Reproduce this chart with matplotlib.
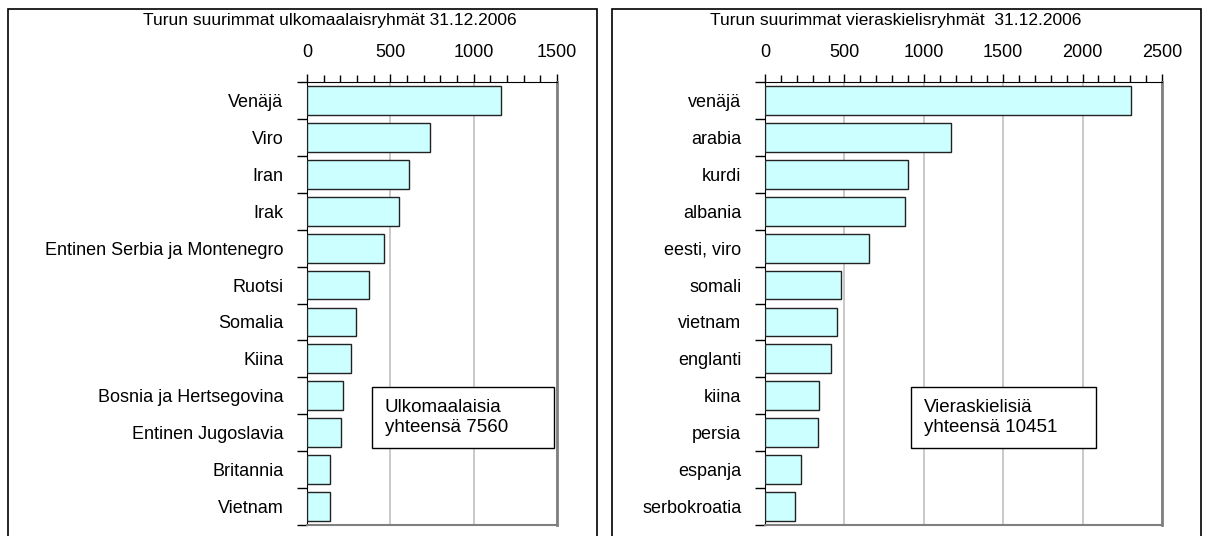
import numpy as np
import matplotlib
matplotlib.use("Agg")
import matplotlib.pyplot as plt
from matplotlib.patches import Rectangle
from matplotlib.ticker import MultipleLocator, FixedLocator

plt.rcParams['font.family'] = ['Liberation Sans', 'DejaVu Sans']

# left chart: foreign nationals
nat_labels = ["Venäjä", "Viro", "Iran", "Irak", "Entinen Serbia ja Montenegro",
              "Ruotsi", "Somalia", "Kiina", "Bosnia ja Hertsegovina",
              "Entinen Jugoslavia", "Britannia", "Vietnam"]
nat_values = [1163, 735, 613, 553, 459, 370, 294, 262, 216, 201, 140, 140]
nat_title = "Turun suurimmat ulkomaalaisryhmät 31.12.2006"
nat_note = "Ulkomaalaisia\nyhteensä 7560"

# right chart: foreign-language speakers
lang_labels = ["venäjä", "arabia", "kurdi", "albania", "eesti, viro", "somali",
               "vietnam", "englanti", "kiina", "persia", "espanja", "serbokroatia"]
lang_values = [2307, 1171, 898, 882, 657, 481, 451, 418, 338, 336, 225, 188]
lang_title = "Turun suurimmat vieraskielisryhmät  31.12.2006"
lang_note = "Vieraskielisiä\nyhteensä 10451"

W, H = 1210, 536
fig = plt.figure(figsize=(W / 100, H / 100), dpi=100)


def px(x0, y0, x1, y1):
    # pixel box (top-left origin) -> figure fraction rect
    return [x0 / W, 1 - y1 / H, (x1 - x0) / W, (y1 - y0) / H]


# panel frames
for x0, x1 in [(8, 597), (612, 1201)]:
    fig.patches.append(Rectangle((x0 / W, -0.02), (x1 - x0) / W, 1 - 8.5 / H + 0.02,
                                 transform=fig.transFigure, fill=False,
                                 edgecolor='black', linewidth=1.2))


def draw(rect, labels, values, xmax, title, title_x, note, note_box):
    ax = fig.add_axes(px(*rect))
    y = np.arange(len(labels))
    ax.barh(y, values, height=0.78, color='#CCFFFF', edgecolor='#222222',
            linewidth=1.0, zorder=3)
    ax.set_xlim(0, xmax)
    ax.set_ylim(len(labels) - 0.5, -0.5)

    ax.xaxis.tick_top()
    ax.xaxis.set_major_locator(MultipleLocator(500))
    ax.xaxis.set_minor_locator(MultipleLocator(100))
    ax.tick_params(axis='x', which='major', direction='out', length=6,
                   width=1, pad=9, labelsize=13)
    ax.tick_params(axis='x', which='minor', direction='out', length=5, width=1)
    ax.grid(axis='x', which='major', color='#C0C0C0', linewidth=1.2, zorder=0)

    ax.set_yticks(y)
    ax.set_yticklabels(labels)
    ax.yaxis.set_minor_locator(FixedLocator(np.arange(len(labels) + 1) - 0.5))
    ax.tick_params(axis='y', which='major', length=0, pad=17, labelsize=13)
    ax.tick_params(axis='y', which='minor', direction='out', length=7, width=1)

    ax.spines['left'].set_color('black')
    ax.spines['top'].set_color('black')
    ax.spines['right'].set_color('#808080')
    ax.spines['right'].set_linewidth(2)
    ax.spines['bottom'].set_color('#808080')
    ax.spines['bottom'].set_linewidth(1.5)

    fig.text(title_x / W, 1 - 20 / H, title, ha='center', va='center', fontsize=12.5)

    bx0, by0, bx1, by1 = note_box
    fig.patches.append(Rectangle((bx0 / W, 1 - by1 / H), (bx1 - bx0) / W, (by1 - by0) / H,
                                 transform=fig.transFigure, facecolor='white',
                                 edgecolor='black', linewidth=1.0, zorder=5))
    fig.text((bx0 + 13) / W, 1 - (by0 + by1) / 2 / H, note, ha='left', va='center',
             fontsize=13.5, linespacing=1.3, zorder=6)


draw((307, 82, 557, 525), nat_labels, nat_values, 1500, nat_title, 330,
     nat_note, (372, 387, 554, 448))
draw((765, 82, 1162, 525), lang_labels, lang_values, 2500, lang_title, 896,
     lang_note, (911, 387, 1096, 448))

fig.savefig("out.png", dpi=100)
